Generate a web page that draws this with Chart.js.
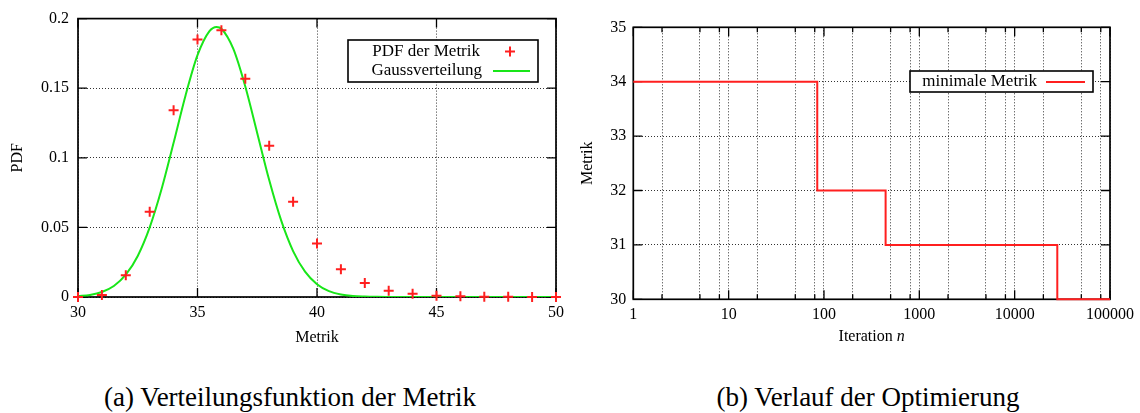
<!DOCTYPE html>
<html>
<head>
<meta charset="utf-8">
<script src="https://cdn.jsdelivr.net/npm/chart.js@4.4.1/dist/chart.umd.min.js"></script>
<style>
  body { margin: 0; background: #fff; }
  #wrap { position: relative; width: 1140px; height: 413px; overflow: hidden; font-family: "Liberation Serif", "Times New Roman", serif; }
  canvas { position: absolute; top: 0; }
  #pdfChart { left: 0; }
  #optChart { left: 570px; }
  .caption { position: absolute; top: 382px; width: 570px; font-size: 27px; line-height: 30px; text-align: center; color: #000; }
</style>
</head>
<body>
<div id="wrap">
  <canvas id="pdfChart" width="570" height="360"></canvas>
  <canvas id="optChart" width="570" height="360"></canvas>
  <div class="caption" style="left:5px">(a) Verteilungsfunktion der Metrik</div>
  <div class="caption" style="left:583px">(b) Verlauf der Optimierung</div>
</div>
<script>
// (a) histogram of the metric plus fitted gauss curve
const metrik = [30, 31, 32, 33, 34, 35, 36, 37, 38, 39, 40, 41, 42, 43, 44, 45, 46, 47, 48, 49, 50];
const pdfWerte = [0, 0.0014, 0.0156, 0.0613, 0.1342, 0.1849, 0.1917, 0.1568, 0.1087, 0.0684, 0.0384,
                  0.0200, 0.0101, 0.0045, 0.0024, 0.0009, 0.0005, 0.0002, 0.0001, 0, 0];
const gaussX = [30, 30.5, 31, 31.5, 32, 32.5, 33, 33.5, 34, 34.5, 35, 35.5, 35.8, 36, 36.5, 37, 37.5,
                38, 38.5, 39, 39.5, 40, 40.5, 41, 41.5, 42, 42.5, 43, 44, 46, 48, 50];
const gaussY = [0.0006, 0.0015, 0.0036, 0.0079, 0.0160, 0.0295, 0.0500, 0.0777, 0.1108, 0.1448, 0.1737,
                0.1910, 0.1940, 0.1927, 0.1782, 0.1512, 0.1177, 0.0840, 0.0550, 0.0330, 0.0182, 0.0092,
                0.0042, 0.0018, 0.0007, 0.0003, 0.0001, 0, 0, 0, 0, 0];
const pdfTicks = [0, 0.05, 0.1, 0.15, 0.2];

// (b) best metric found so far over the iterations
const iteration = [1, 85, 443, 28000, 100000];
const minMetrik = [34, 32, 31, 30, 30];
const iterDekaden = [1, 10, 100, 1000, 10000, 100000];
const iterZwischen = [2, 5, 8];

const serif = '"Liberation Serif", "Times New Roman", serif';
const rot = '#ff1f1f';
const gruen = '#19e619';

Chart.defaults.font.family = serif;
Chart.defaults.font.size = 16;
Chart.defaults.color = '#000';
Chart.defaults.animation = false;

const gridOpts = { color: 'rgba(0,0,0,0.8)', lineWidth: 1, drawTicks: false };
const borderOpts = { display: false, dash: [1, 2] };

// frame with inward tics on all four sides (gnuplot style)
function rahmen(isMajor) {
  return {
    id: 'rahmen',
    beforeDatasetsDraw(chart) {
      const { ctx, chartArea: a, scales } = chart;
      ctx.save();
      ctx.strokeStyle = '#000';
      ctx.lineWidth = 1.3;
      ctx.beginPath();
      scales.x.ticks.forEach(t => {
        const len = (!isMajor || isMajor(t.value)) ? 9 : 5;
        const px = scales.x.getPixelForValue(t.value);
        ctx.moveTo(px, a.bottom); ctx.lineTo(px, a.bottom - len);
        ctx.moveTo(px, a.top); ctx.lineTo(px, a.top + len);
      });
      scales.y.ticks.forEach(t => {
        const py = scales.y.getPixelForValue(t.value);
        ctx.moveTo(a.left, py); ctx.lineTo(a.left + 9, py);
        ctx.moveTo(a.right, py); ctx.lineTo(a.right - 9, py);
      });
      ctx.stroke();
      ctx.lineWidth = 1.7;
      ctx.strokeRect(a.left, a.top, a.right - a.left, a.bottom - a.top);
      ctx.restore();
    }
  };
}

// boxed key, one row per dataset
function kasten(box, rows) {
  return {
    id: 'kasten',
    afterDraw(chart) {
      const ctx = chart.ctx;
      ctx.save();
      ctx.fillStyle = '#fff';
      ctx.fillRect(box[0], box[1], box[2] - box[0], box[3] - box[1]);
      ctx.strokeStyle = '#000';
      ctx.lineWidth = 1.6;
      ctx.strokeRect(box[0], box[1], box[2] - box[0], box[3] - box[1]);
      ctx.font = '17px ' + serif;
      ctx.textAlign = 'right';
      ctx.textBaseline = 'middle';
      rows.forEach((r, i) => {
        const ds = chart.data.datasets[i];
        ctx.fillStyle = '#000';
        ctx.fillText(ds.label, r.textRight, r.y);
        ctx.strokeStyle = ds.borderColor;
        ctx.lineWidth = 2;
        ctx.beginPath();
        if (r.cross) {
          ctx.moveTo(r.cross - 5, r.y); ctx.lineTo(r.cross + 5, r.y);
          ctx.moveTo(r.cross, r.y - 5); ctx.lineTo(r.cross, r.y + 5);
        } else {
          ctx.moveTo(r.line[0], r.y); ctx.lineTo(r.line[1], r.y);
        }
        ctx.stroke();
      });
      ctx.restore();
    }
  };
}

// x title with italic variable
const iterTitel = {
  id: 'iterTitel',
  afterDraw(chart) {
    const { ctx, chartArea: a } = chart;
    const teil1 = 'Iteration ';
    ctx.save();
    ctx.fillStyle = '#000';
    ctx.textBaseline = 'middle';
    ctx.textAlign = 'left';
    ctx.font = '16px ' + serif;
    const w1 = ctx.measureText(teil1).width;
    ctx.font = 'italic 16px ' + serif;
    const w2 = ctx.measureText('n').width;
    const x0 = (a.left + a.right) / 2 - (w1 + w2) / 2;
    ctx.font = '16px ' + serif;
    ctx.fillText(teil1, x0, 337);
    ctx.font = 'italic 16px ' + serif;
    ctx.fillText('n', x0 + w1, 337);
    ctx.restore();
  }
};

new Chart(document.getElementById('pdfChart'), {
  type: 'scatter',
  data: {
    datasets: [
      {
        label: 'PDF der Metrik',
        data: metrik.map((x, i) => ({ x: x, y: pdfWerte[i] })),
        pointStyle: 'cross',
        pointRadius: 5,
        pointBorderWidth: 2,
        borderColor: rot,
        backgroundColor: rot,
        clip: false
      },
      {
        label: 'Gaussverteilung',
        type: 'line',
        data: gaussX.map((x, i) => ({ x: x, y: gaussY[i] })),
        borderColor: gruen,
        borderWidth: 2,
        pointRadius: 0,
        fill: false,
        cubicInterpolationMode: 'monotone'
      }
    ]
  },
  options: {
    responsive: false,
    events: [],
    layout: { padding: { left: 0, top: 15, right: 9, bottom: 0 } },
    plugins: { legend: { display: false }, tooltip: { enabled: false } },
    scales: {
      x: {
        type: 'linear', min: 30, max: 50,
        ticks: { stepSize: 5, padding: 6, maxRotation: 0 },
        grid: gridOpts, border: borderOpts,
        title: { display: true, text: 'Metrik', padding: { top: 0, bottom: 13 } },
        afterFit: s => { s.height = 63; }
      },
      y: {
        min: 0, max: 0.2,
        afterBuildTicks: s => { s.ticks = pdfTicks.map(v => ({ value: v })); },
        ticks: { padding: 9, callback: v => String(+v.toFixed(2)) },
        grid: gridOpts, border: borderOpts,
        title: { display: true, text: 'PDF', padding: { top: 8, bottom: 0 } },
        afterFit: s => { s.width = 78; }
      }
    }
  },
  plugins: [
    rahmen(null),
    kasten([348, 40, 538, 82], [
      { y: 51.5, textRight: 480, cross: 510 },
      { y: 71, textRight: 482, line: [493, 530] }
    ])
  ]
});

// tick list for the log axis: decades plus 2, 5, 8 in between
const iterGitter = [];
iterDekaden.forEach((d, i) => {
  iterGitter.push(d);
  if (i < iterDekaden.length - 1) iterZwischen.forEach(m => iterGitter.push(d * m));
});

new Chart(document.getElementById('optChart'), {
  type: 'line',
  data: {
    datasets: [
      {
        label: 'minimale Metrik',
        data: iteration.map((x, i) => ({ x: x, y: minMetrik[i] })),
        // horizontal first, then drop to the next value
        stepped: 'before',
        borderColor: rot,
        borderWidth: 2,
        pointRadius: 0,
        fill: false,
        clip: false
      }
    ]
  },
  options: {
    responsive: false,
    events: [],
    layout: { padding: { left: 0, top: 27.3, right: 28.3, bottom: 0 } },
    plugins: { legend: { display: false }, tooltip: { enabled: false } },
    scales: {
      x: {
        type: 'logarithmic', min: 1, max: 100000,
        afterBuildTicks: s => { s.ticks = iterGitter.map(v => ({ value: v })); },
        ticks: {
          padding: 6, maxRotation: 0, autoSkip: false,
          callback: v => iterDekaden.includes(v) ? String(v) : ''
        },
        grid: gridOpts, border: borderOpts,
        title: { display: false },
        afterFit: s => { s.height = 60.7; }
      },
      y: {
        min: 30, max: 35,
        ticks: { stepSize: 1, padding: 7 },
        grid: gridOpts, border: borderOpts,
        title: { display: true, text: 'Metrik', padding: { top: 8, bottom: 0 } },
        afterFit: s => { s.width = 63.3; }
      }
    }
  },
  plugins: [
    rahmen(v => iterDekaden.includes(v)),
    kasten([340, 71, 523, 92], [
      { y: 82, textRight: 467, line: [476, 515] }
    ]),
    iterTitel
  ]
});
</script>
</body>
</html>
